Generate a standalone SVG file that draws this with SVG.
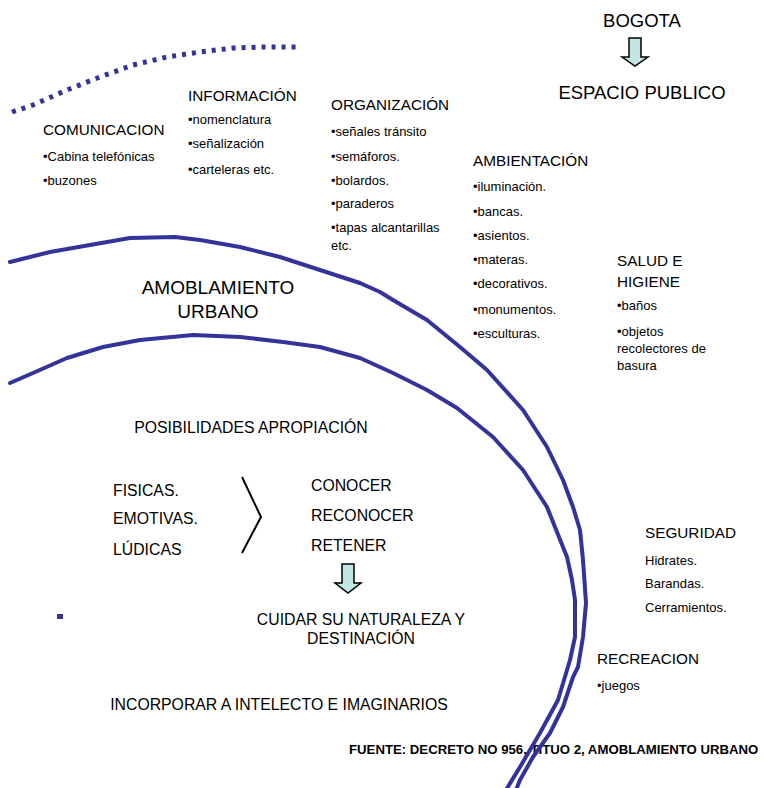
<svg xmlns="http://www.w3.org/2000/svg" width="764" height="788" viewBox="0 0 764 788">
<style>
text{font-family:"Liberation Sans",Arial,sans-serif;fill:#000}
.h{font-size:15.3px}
.i{font-size:13px}
.b{font-size:18.5px}
.m{font-size:15.8px}
.c{text-anchor:middle}
.arc{fill:none;stroke:#333399;stroke-width:4;stroke-linejoin:round;stroke-linecap:round}
.arrow{fill:#c2e5e5;stroke:#000;stroke-width:1.5}
</style>
<rect width="764" height="788" fill="#fff"/>
<g id="bogota"><text class="b c" x="642" y="27">BOGOTA</text></g>
<g id="espacio"><text class="b c" x="642" y="99">ESPACIO PUBLICO</text></g>
<g id="comunicacion">
<text class="h" x="43" y="135">COMUNICACION</text>
<text class="i" x="43" y="161">•Cabina telefónicas</text>
<text class="i" x="43" y="185">•buzones</text>
</g>
<g id="informacion">
<text class="h" x="188" y="101">INFORMACIÓN</text>
<text class="i" x="188" y="124">•nomenclatura</text>
<text class="i" x="188" y="148">•señalización</text>
<text class="i" x="188" y="174">•carteleras etc.</text>
</g>
<g id="organizacion">
<text class="h" x="331" y="110">ORGANIZACIÓN</text>
<text class="i" x="331" y="136">•señales tránsito</text>
<text class="i" x="331" y="161">•semáforos.</text>
<text class="i" x="331" y="185">•bolardos.</text>
<text class="i" x="331" y="208">•paraderos</text>
<text class="i" x="331" y="232">•tapas alcantarillas</text>
<text class="i" x="331" y="250">etc.</text>
</g>
<g id="ambientacion">
<text class="h" x="473" y="166">AMBIENTACIÓN</text>
<text class="i" x="473" y="191">•iluminación.</text>
<text class="i" x="473" y="216">•bancas.</text>
<text class="i" x="473" y="240">•asientos.</text>
<text class="i" x="473" y="264">•materas.</text>
<text class="i" x="473" y="288">•decorativos.</text>
<text class="i" x="473" y="314">•monumentos.</text>
<text class="i" x="473" y="338">•esculturas.</text>
</g>
<g id="salud">
<text class="h" x="617" y="266">SALUD E</text>
<text class="h" x="617" y="287">HIGIENE</text>
<text class="i" x="617" y="310">•baños</text>
<text class="i" x="617" y="336">•objetos</text>
<text class="i" x="617" y="353">recolectores de</text>
<text class="i" x="617" y="370">basura</text>
</g>
<g id="seguridad">
<text class="h" x="645" y="538">SEGURIDAD</text>
<text class="i" x="645" y="565">Hidrates.</text>
<text class="i" x="645" y="588">Barandas.</text>
<text class="i" x="645" y="612">Cerramientos.</text>
</g>
<g id="recreacion">
<text class="h" x="597" y="664">RECREACION</text>
<text class="i" x="597" y="690">•juegos</text>
</g>
<g id="amoblamiento">
<text class="c" style="font-size:19px" x="218" y="294">AMOBLAMIENTO</text>
<text class="c" style="font-size:19px" x="218" y="318">URBANO</text>
</g>
<g id="posibilidades"><text class="m c" x="251" y="433">POSIBILIDADES APROPIACIÓN</text></g>
<g id="tipos">
<text class="m" x="113" y="496">FISICAS.</text>
<text class="m" x="113" y="524">EMOTIVAS.</text>
<text class="m" x="113" y="555">LÚDICAS</text>
</g>
<g id="acciones">
<text class="m" x="311" y="491">CONOCER</text>
<text class="m" x="311" y="521">RECONOCER</text>
<text class="m" x="311" y="551">RETENER</text>
</g>
<g id="cuidar">
<text class="m c" x="361" y="625">CUIDAR SU NATURALEZA Y</text>
<text class="m c" x="361" y="644">DESTINACIÓN</text>
</g>
<g id="incorporar"><text class="m c" x="279" y="710">INCORPORAR A INTELECTO E IMAGINARIOS</text></g>
<g id="fuente"><text style="font-weight:bold;font-size:13.2px" x="349" y="754">FUENTE: DECRETO NO 956, TITUO 2, AMOBLAMIENTO URBANO</text></g>
<g id="connectors">
<path class="arrow" d="M629,38 H641 V57 H648 L635,66 L622,57 H629 Z"/>
<path class="arrow" d="M342,564 H354 V583 H361 L348,593 L335,583 H342 Z"/>
<polyline points="242,477 261,517 242,553" fill="none" stroke="#000" stroke-width="2"/>
<polyline class="arc" points="10,262 50,252 90,245 130,238 175,237 200,240 240,247 280,257 320,270 360,283 380,292 393,300 427,320 460,347 487,370 523,410 547,447 563,480 573,507 580,530 583,560 586,603 583,637 578,667 573,677 563,707 550,733 533,757 520,780 516,790"/>
<polyline class="arc" points="10,383 33,373 67,358 103,347 140,340 193,335 240,337 283,342 320,347 360,358 393,373 427,390 457,408 493,437 523,470 547,507 567,557 572,580 575,600 575,637 570,660 558,700 540,733 520,767 506,790"/>
<polyline points="12,112 33,105 67,90 100,77 133,65 167,57 200,52 233,48 265,47 298,47" fill="none" stroke="#333399" stroke-width="5" stroke-dasharray="4 6"/>
<rect x="57" y="614" width="6" height="5" fill="#333399"/>
</g>
</svg>
